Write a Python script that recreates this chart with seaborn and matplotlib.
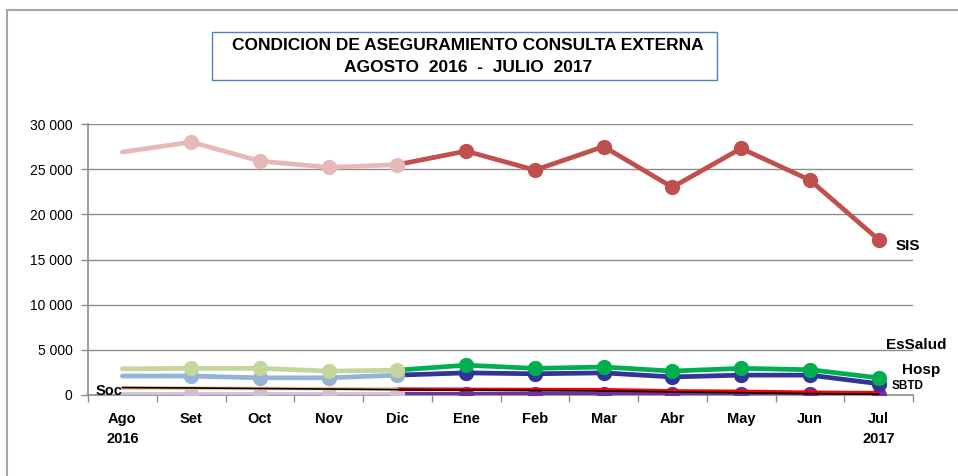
import matplotlib
matplotlib.use("Agg")
import matplotlib.pyplot as plt
import seaborn as sns
import pandas as pd
import numpy as np
from matplotlib.patches import Rectangle
from matplotlib.lines import Line2D
from matplotlib.ticker import FuncFormatter, FixedLocator

sns.set_style("white")
plt.rcParams['font.family'] = ['Liberation Sans', 'DejaVu Sans']

months = ["Ago", "Set", "Oct", "Nov", "Dic", "Ene", "Feb", "Mar", "Abr", "May", "Jun", "Jul"]
tick_labels = ["Ago\n2016", "Set", "Oct", "Nov", "Dic", "Ene", "Feb", "Mar", "Abr", "May", "Jun", "Jul\n2017"]

sis = [26900, 28000, 25900, 25200, 25500, 27000, 24900, 27500, 23000, 27300, 23800, 17200]
essalud = [2900, 2950, 2950, 2650, 2750, 3300, 2950, 3100, 2650, 2950, 2800, 1900]
hosp = [2100, 2100, 1900, 1900, 2200, 2450, 2350, 2450, 2000, 2200, 2200, 1250]
sbtd = [780, 750, 720, 700, 650, 620, 600, 580, 450, 400, 300, 250]
soc = [820, 780, 720, 660, 600, 550, 500, 450, 350, 250, 150, 100]
otros = [80, 80, 80, 80, 80, 80, 80, 80, 70, 70, 60, 50]

# (values, color 2016, color 2017, markers, line width)
series = [
    (otros, "#CCC0DA", "#7030A0", True, 3.4),
    (sbtd, "#FAC090", "#FF0000", False, 2.6),
    (hosp, "#95B3D7", "#333399", True, 3.4),
    (essalud, "#C3D69B", "#00B050", True, 3.4),
    (sis, "#E6B9B8", "#C0504D", True, 3.4),
]

W, H = 958, 476
fig = plt.figure(figsize=(W / 100, H / 100), dpi=100)
ax = fig.add_axes([88 / W, 1 - 395 / H, (913 - 88) / W, (395 - 124) / H])

x = np.arange(len(months))
n16 = 5  # Ago..Dic

for vals, c16, c17, mk, lw in series:
    d16 = pd.DataFrame({"x": x[:n16], "y": vals[:n16]})
    d17 = pd.DataFrame({"x": x[n16 - 1:], "y": vals[n16 - 1:]})
    kw17 = dict(marker="o", markersize=11, markeredgewidth=0,
                markevery=list(range(1, len(d17)))) if mk else {}
    kw16 = dict(marker="o", markersize=11, markeredgewidth=0,
                markevery=list(range(1, len(d16)))) if mk else {}
    sns.lineplot(data=d17, x="x", y="y", ax=ax, color=c17, lw=lw,
                 solid_capstyle="round", zorder=3, **kw17)
    sns.lineplot(data=d16, x="x", y="y", ax=ax, color=c16, lw=lw,
                 solid_capstyle="round", zorder=3, **kw16)

dsoc = pd.DataFrame({"x": x, "y": soc})
sns.lineplot(data=dsoc, x="x", y="y", ax=ax, color="black", lw=1.2, zorder=4)

ax.set_xlim(-0.5, len(months) - 0.5)
ax.set_ylim(0, 30000)
ax.set_xlabel("")
ax.set_ylabel("")

ax.yaxis.set_major_locator(FixedLocator(np.arange(0, 30001, 5000)))
ax.yaxis.set_major_formatter(FuncFormatter(lambda v, p: f"{int(v):,}".replace(",", " ")))
ax.grid(axis="y", color="#8C8C8C", lw=1)
ax.set_axisbelow(True)

ax.xaxis.set_major_locator(FixedLocator(np.arange(-0.5, len(months), 1)))
ax.set_xticklabels([""] * len(ax.get_xticks()))
ax.set_xticks(x, minor=True)
ax.set_xticklabels(tick_labels, minor=True, fontweight="bold", fontsize=10.5,
                   linespacing=1.6, color="black")
ax.tick_params(axis="x", which="major", length=5, color="#8C8C8C", width=1, direction="out")
ax.tick_params(axis="x", which="minor", length=0, pad=12)
ax.tick_params(axis="y", length=5, color="#8C8C8C", width=1, direction="out",
               labelsize=10, pad=6, labelcolor="black")
ax.tick_params(bottom=True, left=True, which="major")

for s in ["top", "right"]:
    ax.spines[s].set_visible(False)
for s in ["left", "bottom"]:
    ax.spines[s].set_color("#8C8C8C")
    ax.spines[s].set_linewidth(1.2)

# series labels
def ftext(px, py, s, size=10.5, **kw):
    fig.text(px / W, 1 - py / H, s, fontsize=size, fontweight="bold", va="center",
             color="black", **kw)

ftext(896, 246, "SIS", size=11)
ftext(886, 345, "EsSalud", size=11)
ftext(902, 370, "Hosp", size=11)
ftext(892, 386, "SBTD", size=8.5)
ftext(96, 391, "Soc")

# title box
fig.patches.append(Rectangle((212 / W, 1 - 80 / H), (717 - 212) / W, 48 / H,
                             transform=fig.transFigure, fill=False,
                             edgecolor="#4F81BD", lw=1))
fig.text(468 / W, 1 - 45 / H, "CONDICION DE ASEGURAMIENTO CONSULTA EXTERNA",
         ha="center", va="center", fontsize=12.5, fontweight="bold", color="black")
fig.text(468 / W, 1 - 68 / H, "AGOSTO  2016  -  JULIO  2017",
         ha="center", va="center", fontsize=12.5, fontweight="bold", color="black")

# outer border (left and top visible)
fig.lines.append(Line2D([7 / W, 7 / W], [0, 1 - 9.5 / H], transform=fig.transFigure,
                        color="#A6A6A6", lw=1.5))
fig.lines.append(Line2D([7 / W, 1], [1 - 9.5 / H, 1 - 9.5 / H], transform=fig.transFigure,
                        color="#A6A6A6", lw=1.5))

leg = ax.get_legend()
if leg:
    leg.remove()

fig.savefig("out.png", dpi=100)
